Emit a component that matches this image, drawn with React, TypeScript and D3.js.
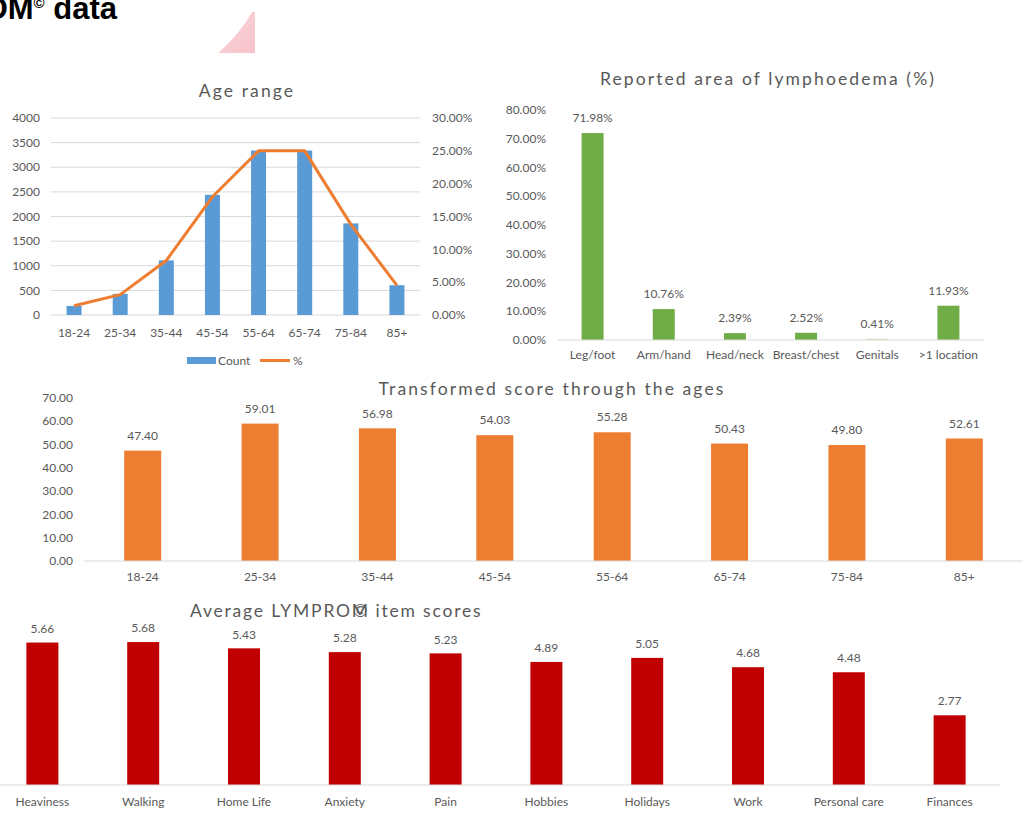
import React from 'react';
import * as d3 from 'd3';

// ---------- Data ----------
const ageCategories = ['18-24', '25-34', '35-44', '45-54', '55-64', '65-74', '75-84', '85+'];
const ageCounts = [185, 430, 1110, 2440, 3340, 3340, 1860, 605];
const agePercents = [1.4, 3.1, 8.3, 18.0, 25.0, 25.0, 13.8, 4.5];
const ageLeftTicks = [0, 500, 1000, 1500, 2000, 2500, 3000, 3500, 4000];
const ageRightTicks = [0, 5, 10, 15, 20, 25, 30];

const areaCategories = ['Leg/foot', 'Arm/hand', 'Head/neck', 'Breast/chest', 'Genitals', '>1 location'];
const areaValues = [71.98, 10.76, 2.39, 2.52, 0.41, 11.93];
const areaTicks = [0, 10, 20, 30, 40, 50, 60, 70, 80];

const scoreCategories = ['18-24', '25-34', '35-44', '45-54', '55-64', '65-74', '75-84', '85+'];
const scoreValues = [47.4, 59.01, 56.98, 54.03, 55.28, 50.43, 49.8, 52.61];
const scoreTicks = [0, 10, 20, 30, 40, 50, 60, 70];

const itemCategories = ['Heaviness', 'Walking', 'Home Life', 'Anxiety', 'Pain', 'Hobbies', 'Holidays', 'Work', 'Personal care', 'Finances'];
const itemValues = [5.66, 5.68, 5.43, 5.28, 5.23, 4.89, 5.05, 4.68, 4.48, 2.77];

const FONT = 'Lato, "Open Sans", sans-serif';
const GRAY = '#595959';
const GRID = '#D9D9D9';
const BLUE = '#5B9BD5';
const ORANGE = '#ED7D31';
const GREEN = '#70AD47';
const RED = '#C00000';
const TITLE_SIZE = 17.5;
const TITLE_SPACING = 2.1;

function bandFor(cats: string[], x0: number, x1: number, barW: number) {
  const step = (x1 - x0) / cats.length;
  const pad = 1 - barW / step;
  return d3.scaleBand<string>().domain(cats).range([x0, x1]).paddingInner(pad).paddingOuter(pad / 2);
}

function AgeChart() {
  const x = bandFor(ageCategories, 51, 420, 15);
  const yL = d3.scaleLinear().domain([0, 4000]).range([315, 118]);
  const yR = d3.scaleLinear().domain([0, 30]).range([315, 118]);
  const line = d3
    .line<number>()
    .x((_, i) => (x(ageCategories[i]) as number) + x.bandwidth() / 2)
    .y((d) => yR(d));
  return (
    <g>
      <text x={247} y={97} textAnchor="middle" fontSize={TITLE_SIZE} letterSpacing={TITLE_SPACING} fill={GRAY}>
        Age range
      </text>
      {ageLeftTicks.map((t) => (
        <g key={t}>
          <line x1={51} x2={420} y1={yL(t)} y2={yL(t)} stroke={GRID} strokeWidth={1} />
          <text x={40} y={yL(t)} dy="0.35em" textAnchor="end" fontSize={12} fill={GRAY}>
            {t}
          </text>
        </g>
      ))}
      {ageRightTicks.map((t) => (
        <text key={t} x={432} y={yR(t)} dy="0.35em" textAnchor="start" fontSize={12} fill={GRAY}>
          {d3.format('.2f')(t)}%
        </text>
      ))}
      {ageCounts.map((v, i) => (
        <rect
          key={i}
          x={x(ageCategories[i])}
          y={yL(v)}
          width={x.bandwidth()}
          height={yL(0) - yL(v)}
          fill={BLUE}
        />
      ))}
      <path d={line(agePercents) || ''} fill="none" stroke={ORANGE} strokeWidth={3} strokeLinejoin="round" />
      {ageCategories.map((c) => (
        <text key={c} x={(x(c) as number) + x.bandwidth() / 2} y={333} dy="0.35em" textAnchor="middle" fontSize={12} fill={GRAY}>
          {c}
        </text>
      ))}
      <rect x={187} y={357} width={29} height={7} fill={BLUE} />
      <text x={218} y={360.5} dy="0.35em" fontSize={12} fill={GRAY}>
        Count
      </text>
      <line x1={260} x2={290} y1={360.5} y2={360.5} stroke={ORANGE} strokeWidth={3} />
      <text x={293} y={360.5} dy="0.35em" fontSize={12} fill={GRAY}>
        %
      </text>
    </g>
  );
}

function AreaChart() {
  const x = bandFor(areaCategories, 557, 984, 22);
  const y = d3.scaleLinear().domain([0, 80]).range([340, 110]);
  return (
    <g>
      <text x={768} y={85} textAnchor="middle" fontSize={TITLE_SIZE} letterSpacing={TITLE_SPACING} fill={GRAY}>
        Reported area of lymphoedema (%)
      </text>
      {areaTicks.map((t) => (
        <text key={t} x={546} y={y(t)} dy="0.35em" textAnchor="end" fontSize={12} fill={GRAY}>
          {d3.format('.2f')(t)}%
        </text>
      ))}
      {areaValues.map((v, i) => (
        <g key={i}>
          <rect
            x={x(areaCategories[i])}
            y={y(v)}
            width={x.bandwidth()}
            height={y(0) - y(v)}
            fill={v < 1 ? '#C5E0B4' : GREEN}
          />
          <text
            x={(x(areaCategories[i]) as number) + x.bandwidth() / 2}
            y={y(v) - 15}
            dy="0.35em"
            textAnchor="middle"
            fontSize={12}
            fill={GRAY}
          >
            {d3.format('.2f')(v)}%
          </text>
        </g>
      ))}
      <line x1={557} x2={984} y1={y(0)} y2={y(0)} stroke={GRID} strokeWidth={1} />
      {areaCategories.map((c) => (
        <text key={c} x={(x(c) as number) + x.bandwidth() / 2} y={355} dy="0.35em" textAnchor="middle" fontSize={12} fill={GRAY}>
          {c}
        </text>
      ))}
    </g>
  );
}

function ScoreChart() {
  const x = bandFor(scoreCategories, 84, 1023, 37);
  const y = d3.scaleLinear().domain([0, 70]).range([561, 398]);
  return (
    <g>
      <text x={552} y={395} textAnchor="middle" fontSize={TITLE_SIZE} letterSpacing={TITLE_SPACING} fill={GRAY}>
        Transformed score through the ages
      </text>
      {scoreTicks.map((t) => (
        <text key={t} x={73} y={y(t)} dy="0.35em" textAnchor="end" fontSize={12} fill={GRAY}>
          {d3.format('.2f')(t)}
        </text>
      ))}
      {scoreValues.map((v, i) => (
        <g key={i}>
          <rect x={x(scoreCategories[i])} y={y(v)} width={x.bandwidth()} height={y(0) - y(v)} fill={ORANGE} />
          <text
            x={(x(scoreCategories[i]) as number) + x.bandwidth() / 2}
            y={y(v) - 15}
            dy="0.35em"
            textAnchor="middle"
            fontSize={12}
            fill={GRAY}
          >
            {d3.format('.2f')(v)}
          </text>
        </g>
      ))}
      <line x1={84} x2={1023} y1={y(0)} y2={y(0)} stroke={GRID} strokeWidth={1} />
      {scoreCategories.map((c) => (
        <text key={c} x={(x(c) as number) + x.bandwidth() / 2} y={577} dy="0.35em" textAnchor="middle" fontSize={12} fill={GRAY}>
          {c}
        </text>
      ))}
    </g>
  );
}

function ItemChart() {
  const x = bandFor(itemCategories, -8, 1000, 32);
  const y = d3.scaleLinear().domain([0, 6]).range([785, 634]);
  return (
    <g>
      <text x={190} y={617} textAnchor="start" fontSize={TITLE_SIZE} letterSpacing={1.8} fill={GRAY}>
        Average LYMPROM<tspan dx={-17}>©</tspan> item scores
      </text>
      {itemValues.map((v, i) => (
        <g key={i}>
          <rect x={x(itemCategories[i])} y={y(v)} width={x.bandwidth()} height={y(0) - y(v)} fill={RED} />
          <text
            x={(x(itemCategories[i]) as number) + x.bandwidth() / 2}
            y={y(v) - 14}
            dy="0.35em"
            textAnchor="middle"
            fontSize={12}
            fill={GRAY}
          >
            {d3.format('.2f')(v)}
          </text>
        </g>
      ))}
      <line x1={0} x2={1000} y1={y(0)} y2={y(0)} stroke={GRID} strokeWidth={1} />
      {itemCategories.map((c) => (
        <text key={c} x={(x(c) as number) + x.bandwidth() / 2} y={802} dy="0.35em" textAnchor="middle" fontSize={12} fill={GRAY}>
          {c}
        </text>
      ))}
    </g>
  );
}

export default function App() {
  return (
    <svg
      width={1027}
      height={839}
      viewBox="0 0 1027 839"
      style={{ position: 'absolute', left: 0, top: 0, background: '#fff' }}
      fontFamily={FONT}
    >
      <defs>
        <linearGradient id="pinkGrad" x1="0" y1="0" x2="1" y2="1">
          <stop offset="0%" stopColor="#F8C9CF" />
          <stop offset="100%" stopColor="#F4AEB8" />
        </linearGradient>
      </defs>
      <rect x={0} y={0} width={1027} height={839} fill="#fff" />
      <text x={117} y={19} textAnchor="end" fontFamily='"Liberation Sans", Arial, sans-serif' fontWeight="bold" fontSize={31} fill="#000">
        LYMPROM<tspan fontSize={15} dy={-11}>©</tspan>
        <tspan dy={11}> data</tspan>
      </text>
      <path d="M218,53 Q240,34 252,12 L255,12 L255,53 Z" fill="url(#pinkGrad)" opacity={0.75} />
      <AgeChart />
      <AreaChart />
      <ScoreChart />
      <ItemChart />
    </svg>
  );
}
